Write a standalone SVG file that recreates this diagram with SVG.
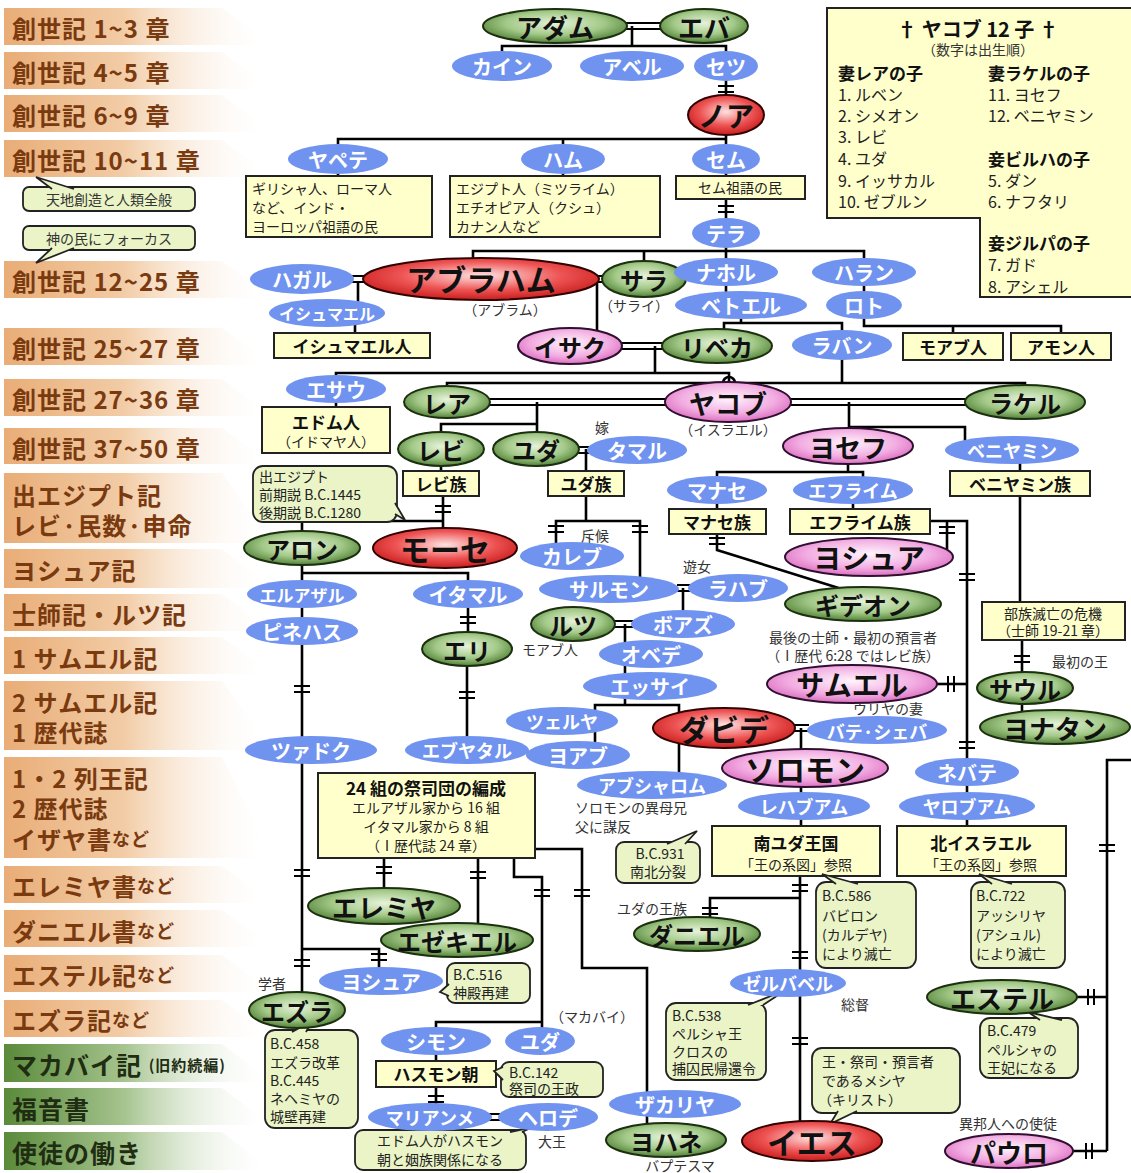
<svg xmlns="http://www.w3.org/2000/svg" width="1131" height="1173" viewBox="0 0 1131 1173">
<defs>
<linearGradient id="gO" x1="0" x2="1" y1="0" y2="0"><stop offset="0" stop-color="#e9ad77"/><stop offset="0.45" stop-color="#f2cca6"/><stop offset="1" stop-color="#ffffff" stop-opacity="0"/></linearGradient>
<linearGradient id="gG" x1="0" x2="1" y1="0" y2="0"><stop offset="0" stop-color="#5a8a3a"/><stop offset="0.45" stop-color="#a6c48f"/><stop offset="1" stop-color="#ffffff" stop-opacity="0"/></linearGradient>
<radialGradient id="rG" cx="0.5" cy="0.42" r="0.62"><stop offset="0" stop-color="#e6f3da"/><stop offset="0.55" stop-color="#a3c988"/><stop offset="1" stop-color="#44762a"/></radialGradient>
<radialGradient id="rR" cx="0.5" cy="0.42" r="0.62"><stop offset="0" stop-color="#ffe2e2"/><stop offset="0.55" stop-color="#ee5454"/><stop offset="1" stop-color="#c21414"/></radialGradient>
<radialGradient id="rP" cx="0.5" cy="0.42" r="0.62"><stop offset="0" stop-color="#fff4fc"/><stop offset="0.6" stop-color="#f2ade2"/><stop offset="1" stop-color="#d862ba"/></radialGradient>
<g id="m"><path d="M-8,-3H8M-8,3H8" stroke="#000" stroke-width="2" fill="none"/></g>
<g id="mv"><path d="M-3,-8V8M3,-8V8" stroke="#000" stroke-width="2" fill="none"/></g>
<style>
text{font-family:"Noto Sans CJK JP","Noto Sans CJK SC",sans-serif}
.ln path{stroke:#000;stroke-width:2.6;fill:none}
.dl path{stroke:#000;stroke-width:1.8;fill:none}
.b{fill:#7093f0}
.g{fill:url(#rG);stroke:#1c3010;stroke-width:2}
.r{fill:url(#rR);stroke:#300;stroke-width:2}
.p{fill:url(#rP);stroke:#301030;stroke-width:2}
.bx{fill:#ffffcc;stroke:#222;stroke-width:2}
.bb{fill:#eaf4c6;stroke:#222;stroke-width:1.8}
.tw,.tk{font-weight:700;text-anchor:middle;dominant-baseline:central}
.tw{fill:#fff}
.tk{fill:#111}
.f16{font-size:16px}.f17{font-size:17px}.f18{font-size:18px}.f20{font-size:20px}.f22{font-size:22px}.f24{font-size:24px}.f26{font-size:26px}.f28{font-size:28px}.f30{font-size:30px}.f32{font-size:32px}
.s{fill:#333;font-size:14px;dominant-baseline:central}
.c{text-anchor:middle}
.bo{fill:url(#gO)}
.bg{fill:url(#gG)}
.bt{fill:#7a3a10;font-size:24px;font-weight:700;dominant-baseline:central;letter-spacing:1px}
.btg{fill:#1f2d12;font-size:25px;font-weight:700;dominant-baseline:central;letter-spacing:1px}
.bxt{fill:#111;font-size:17px;font-weight:700;text-anchor:middle;dominant-baseline:central}
.bn{fill:#222;font-size:14px;dominant-baseline:central}
</style>
</defs>
<rect width="1131" height="1173" fill="#fff"/>

<g id="bands">
<g id="band-1"><polygon class="bo" points="4,8 222,8 272,45 4,45"/><text class="bt" x="12" y="27">創世記 1~3 章</text></g>
<g id="band-2"><polygon class="bo" points="4,52 222,52 272,89 4,89"/><text class="bt" x="12" y="71">創世記 4~5 章</text></g>
<g id="band-3"><polygon class="bo" points="4,95 222,95 272,132 4,132"/><text class="bt" x="12" y="114">創世記 6~9 章</text></g>
<g id="band-4"><polygon class="bo" points="4,140 222,140 272,177 4,177"/><text class="bt" x="12" y="159">創世記 10~11 章</text></g>
<g id="band-5"><polygon class="bo" points="4,261 222,261 272,298 4,298"/><text class="bt" x="12" y="280">創世記 12~25 章</text></g>
<g id="band-6"><polygon class="bo" points="4,328 222,328 272,365 4,365"/><text class="bt" x="12" y="347">創世記 25~27 章</text></g>
<g id="band-7"><polygon class="bo" points="4,379 222,379 272,416 4,416"/><text class="bt" x="12" y="398">創世記 27~36 章</text></g>
<g id="band-8"><polygon class="bo" points="4,428 222,428 272,464 4,464"/><text class="bt" x="12" y="447">創世記 37~50 章</text></g>
<g id="band-9"><polygon class="bo" points="4,473 222,473 272,543 4,543"/><text class="bt" x="12" y="494">出エジプト記</text><text class="bt" x="12" y="524">レビ·民数·申命</text></g>
<g id="band-10"><polygon class="bo" points="4,549 222,549 272,588 4,588"/><text class="bt" x="12" y="569">ヨシュア記</text></g>
<g id="band-11"><polygon class="bo" points="4,594 222,594 272,631 4,631"/><text class="bt" x="12" y="613">士師記・ルツ記</text></g>
<g id="band-12"><polygon class="bo" points="4,637 222,637 272,674 4,674"/><text class="bt" x="12" y="657">1 サムエル記</text></g>
<g id="band-13"><polygon class="bo" points="4,681 222,681 272,750 4,750"/><text class="bt" x="12" y="701">2 サムエル記</text><text class="bt" x="12" y="731">1 歴代誌</text></g>
<g id="band-14"><polygon class="bo" points="4,757 222,757 272,858 4,858"/><text class="bt" x="12" y="777">1・2 列王記</text><text class="bt" x="12" y="807">2 歴代誌</text><text class="bt" x="12" y="838">イザヤ書<tspan font-size="18">など</tspan></text></g>
<g id="band-15"><polygon class="bo" points="4,866 222,866 272,903 4,903"/><text class="bt" x="12" y="885">エレミヤ書<tspan font-size="18">など</tspan></text></g>
<g id="band-16"><polygon class="bo" points="4,910 222,910 272,947 4,947"/><text class="bt" x="12" y="930">ダニエル書<tspan font-size="18">など</tspan></text></g>
<g id="band-17"><polygon class="bo" points="4,955 222,955 272,992 4,992"/><text class="bt" x="12" y="974">エステル記<tspan font-size="18">など</tspan></text></g>
<g id="band-18"><polygon class="bo" points="4,1000 222,1000 272,1037 4,1037"/><text class="bt" x="12" y="1019">エズラ記<tspan font-size="18">など</tspan></text></g>
<g id="band-19"><polygon class="bg" points="4,1044 222,1044 272,1082 4,1082"/><text class="btg" x="12" y="1064">マカバイ記 <tspan font-size="15">(旧約続編)</tspan></text></g>
<g id="band-20"><polygon class="bg" points="4,1088 222,1088 272,1125 4,1125"/><text class="btg" x="12" y="1108">福音書</text></g>
<g id="band-21"><polygon class="bg" points="4,1132 222,1132 272,1170 4,1170"/><text class="btg" x="12" y="1152">使徒の働き</text></g>
</g>

<g id="legend-bubbles">
<g id="bub-tenchi"><rect class="bb" x="23" y="187" width="172" height="24" rx="6"/><polyline class="bb" points="52,189 36,177 74,189"/><text class="s c" x="109" y="199" fill="#222">天地創造と人類全般</text></g>
<g id="bub-kami"><rect class="bb" x="23" y="226" width="172" height="24" rx="6"/><polyline class="bb" points="52,248 36,263 74,248"/><text class="s c" x="109" y="238">神の民にフォーカス</text></g>
</g>

<g id="panel-12sons">
<polygon class="bx" points="827,8 1136,8 1136,297 980,297 980,218 827,218"/>
<text x="978" y="28" fill="#111" font-size="20" font-weight="700" text-anchor="middle" dominant-baseline="central">† ヤコブ 12 子 †</text>
<text x="978" y="49" class="s c" font-size="15" fill="#222">（数字は出生順）</text>
<g font-size="17" font-weight="700" fill="#111" dominant-baseline="central">
<text x="838" y="72">妻レアの子</text><text x="988" y="72">妻ラケルの子</text>
<text x="988" y="158">妾ビルハの子</text><text x="988" y="242">妾ジルパの子</text>
</g>
<g font-size="16" fill="#222" dominant-baseline="central">
<text x="838" y="94">1. ルベン</text><text x="838" y="115">2. シメオン</text><text x="838" y="136">3. レビ</text><text x="838" y="158">4. ユダ</text><text x="838" y="180">9. イッサカル</text><text x="838" y="201">10. ゼブルン</text>
<text x="988" y="94">11. ヨセフ</text><text x="988" y="115">12. ベニヤミン</text><text x="988" y="180">5. ダン</text><text x="988" y="201">6. ナフタリ</text><text x="988" y="264">7. ガド</text><text x="988" y="286">8. アシェル</text>
</g>
</g>

<g id="connectors">
<g class="ln">
<path d="M632,26V46M502,66V46H726V66"/>
<path d="M726,66V115"/>
<path d="M726,115V159M338,159V139H726M563,139V159"/>
<path d="M338,159V176M563,159V176M726,159V176"/>
<path d="M726,199V233"/>
<path d="M726,233V272M473,270V251H864V272M644,251V270"/>
<path d="M358,282V313M355,313V333"/>
<path d="M597,282V346"/>
<path d="M726,272V305M741,305V323M724,346V323H842V345"/>
<path d="M864,272V305M864,305V326H1061V333M953,326V333"/>
<path d="M655,346V373M336,389V373H729V402"/>
<path d="M842,345V383M447,402V383H723A6,6 0 0 1 735,383H1025V402"/>
<path d="M336,389V407"/>
<path d="M537,402V424M441,449V424H537V449"/>
<path d="M849,402V446M849,427H965V450"/>
<path d="M848,446V472M717,490V472H863V490"/>
<path d="M717,490V509M853,490V509M1020,450V471"/>
<path d="M441,449V471M586,449V471"/>
<path d="M443,496V548M302,548V521H443"/>
<path d="M586,496V521M556,556V521H640V589"/>
<path d="M683,588V624"/>
<path d="M625,624V705M595,755V705H679V785"/>
<path d="M801,728V826"/>
<path d="M800,876V1141M800,898H710V934"/>
<path d="M302,548V594M302,573H468V594"/>
<path d="M302,594V1010M302,949H379V981"/>
<path d="M468,594V649M467,649V750"/>
<path d="M384,858V906M478,858V940M514,858V877H542V1022H436V1041M542,1022V1041M535,849H582V968H647V1140"/>
<path d="M436,1041V1061M436,1087V1117"/>
<path d="M930,521H967V826M947,521V552"/>
<path d="M937,684H967"/>
<path d="M717,534V550L845,590"/>
<path d="M1020,496V602M1022,640V727"/>
<path d="M1136,760H1107V1151M1077,997H1107M1073,1151H1107"/>
</g>
<g class="dl">
<path d="M626,23H662M626,29H662"/>
<path d="M352,276H366M352,282H366"/>
<path d="M597,276H606M597,282H606"/>
<path d="M620,343H665M620,349H665"/>
<path d="M488,399H667M488,405H667"/>
<path d="M789,399H967M789,405H967"/>
<path d="M577,447H590M577,453H590"/>
<path d="M677,585H690M677,591H690"/>
<path d="M613,621H633M613,627H633"/>
<path d="M793,725H809M793,731H809"/>
<path d="M489,1114H501M489,1120H501"/>
</g>
<g id="gap-markers">
<use href="#m" x="726" y="89"/><use href="#m" x="726" y="209"/><use href="#m" x="443" y="509"/>
<use href="#m" x="556" y="529"/><use href="#m" x="640" y="529"/><use href="#m" x="468" y="620"/>
<use href="#m" x="302" y="689"/><use href="#m" x="467" y="695"/><use href="#m" x="302" y="873"/>
<use href="#m" x="384" y="870"/><use href="#m" x="478" y="875"/><use href="#m" x="542" y="893"/>
<use href="#m" x="582" y="893"/><use href="#m" x="379" y="957"/><use href="#m" x="302" y="963"/>
<use href="#m" x="436" y="1099"/><use href="#m" x="800" y="888"/><use href="#m" x="710" y="911"/>
<use href="#m" x="800" y="955"/><use href="#m" x="800" y="1041"/><use href="#m" x="967" y="577"/>
<use href="#m" x="967" y="745"/><use href="#m" x="947" y="530"/><use href="#m" x="717" y="541"/>
<use href="#m" x="1022" y="659"/><use href="#m" x="1107" y="848"/>
<use href="#mv" x="951" y="684"/><use href="#mv" x="1091" y="997"/><use href="#mv" x="1089" y="1151"/>
</g>
</g>

<g id="boxes">
<g id="box-japheth"><rect class="bx" x="246" y="176" width="186" height="61"/><text class="bn" x="252" y="188" font-size="15">ギリシャ人、ローマ人</text><text class="bn" x="252" y="207" font-size="15">など、インド・</text><text class="bn" x="252" y="226" font-size="15">ヨーロッパ祖語の民</text></g>
<g id="box-ham"><rect class="bx" x="450" y="176" width="210" height="61"/><text class="bn" x="456" y="188" font-size="15">エジプト人（ミツライム）</text><text class="bn" x="456" y="207" font-size="15">エチオピア人（クシュ）</text><text class="bn" x="456" y="226" font-size="15">カナン人など</text></g>
<g id="box-shem"><rect class="bx" x="676" y="176" width="129" height="23"/><text class="bn" x="740" y="187" text-anchor="middle" font-size="15">セム祖語の民</text></g>
<g id="box-ishmaelites"><rect class="bx" x="274" y="333" width="156" height="25"/><text class="bxt" x="352" y="345">イシュマエル人</text></g>
<g id="box-moab"><rect class="bx" x="903" y="333" width="100" height="27"/><text class="bxt" x="953" y="346" font-size="18">モアブ人</text></g>
<g id="box-ammon"><rect class="bx" x="1011" y="333" width="100" height="27"/><text class="bxt" x="1061" y="346" font-size="18">アモン人</text></g>
<g id="box-edom"><rect class="bx" x="262" y="407" width="128" height="46"/><text class="bxt" x="326" y="421" font-size="18">エドム人</text><text class="bn c" x="326" y="441">（イドマヤ人）</text></g>
<g id="box-levi"><rect class="bx" x="403" y="471" width="76" height="25"/><text class="bxt" x="441" y="483">レビ族</text></g>
<g id="box-judah"><rect class="bx" x="548" y="471" width="76" height="25"/><text class="bxt" x="586" y="483">ユダ族</text></g>
<g id="box-benjamin"><rect class="bx" x="950" y="471" width="140" height="25"/><text class="bxt" x="1020" y="483">ベニヤミン族</text></g>
<g id="box-manasseh"><rect class="bx" x="669" y="509" width="97" height="25"/><text class="bxt" x="717" y="521">マナセ族</text></g>
<g id="box-ephraim"><rect class="bx" x="790" y="509" width="140" height="25"/><text class="bxt" x="860" y="521">エフライム族</text></g>
<g id="box-crisis"><rect class="bx" x="982" y="602" width="143" height="38"/><text class="bn c" x="1053" y="613">部族滅亡の危機</text><text class="bn c" x="1053" y="630">（士師 19-21 章）</text></g>
<g id="box-24"><rect class="bx" x="318" y="773" width="217" height="85"/><text class="bxt" x="426" y="787" font-size="16">24 組の祭司団の編成</text><text class="bn c" x="426" y="807" font-size="15">エルアザル家から 16 組</text><text class="bn c" x="426" y="826" font-size="15">イタマル家から 8 組</text><text class="bn c" x="426" y="845" font-size="15">（Ⅰ歴代誌 24 章）</text></g>
<g id="box-southjudah"><rect class="bx" x="712" y="826" width="168" height="50"/><text class="bxt" x="796" y="842" font-size="22">南ユダ王国</text><text class="bn c" x="796" y="864">「王の系図」参照</text></g>
<g id="box-northisrael"><rect class="bx" x="897" y="826" width="169" height="50"/><text class="bxt" x="981" y="842" font-size="22">北イスラエル</text><text class="bn c" x="981" y="864">「王の系図」参照</text></g>
<g id="box-hasmonean"><rect class="bx" x="376" y="1061" width="120" height="26"/><text class="bxt" x="436" y="1073">ハスモン朝</text></g>
</g>

<g id="bubbles">
<g id="bub-exodus"><rect class="bb" x="253" y="466" width="144" height="56" rx="10"/><polyline class="bb" points="395,503 405,520 395,514"/><text class="bn" x="259" y="476">出エジプト</text><text class="bn" x="259" y="494">前期説 B.C.1445</text><text class="bn" x="259" y="512">後期説 B.C.1280</text></g>
<g id="bub-931"><rect class="bb" x="616" y="842" width="84" height="41" rx="8"/><polyline class="bb" points="667,844 697,831 685,844"/><text class="bn c" x="660" y="853">B.C.931</text><text class="bn c" x="658" y="871">南北分裂</text></g>
<g id="bub-586"><rect class="bb" x="816" y="882" width="100" height="86" rx="10"/><polyline class="bb" points="836,884 822,874 858,884"/><text class="bn" x="822" y="895">B.C.586</text><text class="bn" x="822" y="915">バビロン</text><text class="bn" x="822" y="934">(カルデヤ)</text><text class="bn" x="822" y="953">により滅亡</text></g>
<g id="bub-722"><rect class="bb" x="971" y="882" width="94" height="86" rx="10"/><polyline class="bb" points="992,884 979,874 1012,884"/><text class="bn" x="976" y="895">B.C.722</text><text class="bn" x="976" y="915">アッシリヤ</text><text class="bn" x="976" y="934">(アシュル)</text><text class="bn" x="976" y="953">により滅亡</text></g>
<g id="bub-516"><rect class="bb" x="447" y="963" width="83" height="40" rx="8"/><polyline class="bb" points="449,984 440,992 449,996"/><text class="bn" x="453" y="974">B.C.516</text><text class="bn" x="453" y="992">神殿再建</text></g>
<g id="bub-ezra"><rect class="bb" x="265" y="1030" width="93" height="98" rx="10"/><polyline class="bb" points="292,1032 312,1021 306,1032"/><text class="bn" x="270" y="1043">B.C.458</text><text class="bn" x="270" y="1062">エズラ改革</text><text class="bn" x="270" y="1080">B.C.445</text><text class="bn" x="270" y="1098">ネヘミヤの</text><text class="bn" x="270" y="1116">城壁再建</text></g>
<g id="bub-142"><rect class="bb" x="501" y="1062" width="102" height="35" rx="8"/><polyline class="bb" points="503,1067 494,1071 503,1080"/><text class="bn" x="509" y="1072">B.C.142</text><text class="bn" x="509" y="1088">祭司の王政</text></g>
<g id="bub-edomites"><rect class="bb" x="355" y="1130" width="171" height="40" rx="8"/><polyline class="bb" points="510,1132 533,1127 522,1132"/><text class="bn c" x="440" y="1140">エドム人がハスモン</text><text class="bn c" x="440" y="1159">朝と姻族関係になる</text></g>
<g id="bub-538"><rect class="bb" x="666" y="1003" width="100" height="77" rx="10"/><polyline class="bb" points="748,1005 786,990 763,1005"/><text class="bn" x="672" y="1015">B.C.538</text><text class="bn" x="672" y="1033">ペルシャ王</text><text class="bn" x="672" y="1051">クロスの</text><text class="bn" x="672" y="1068">捕囚民帰還令</text></g>
<g id="bub-messiah"><rect class="bb" x="812" y="1048" width="148" height="65" rx="10"/><polyline class="bb" points="838,1111 830,1124 857,1111"/><text class="bn" x="822" y="1061" font-size="15">王・祭司・預言者</text><text class="bn" x="822" y="1080" font-size="15">であるメシヤ</text><text class="bn" x="818" y="1099" font-size="15">（キリスト）</text></g>
<g id="bub-479"><rect class="bb" x="980" y="1018" width="98" height="60" rx="10"/><polyline class="bb" points="1040,1020 1028,1012 1062,1020"/><text class="bn" x="987" y="1030">B.C.479</text><text class="bn" x="987" y="1049">ペルシャの</text><text class="bn" x="987" y="1067">王妃になる</text></g>
</g>

<g id="nodes">
<g id="n-adam"><ellipse class="g" cx="555" cy="26" rx="72" ry="17"/><text class="tk f26" x="555" y="26">アダム</text></g>
<g id="n-eve"><ellipse class="g" cx="704" cy="26" rx="44" ry="17"/><text class="tk f26" x="704" y="26">エバ</text></g>
<g id="n-cain"><ellipse class="b" cx="502" cy="66" rx="50" ry="15"/><text class="tw f20" x="502" y="66">カイン</text></g>
<g id="n-abel"><ellipse class="b" cx="632" cy="66" rx="52" ry="15"/><text class="tw f20" x="632" y="66">アベル</text></g>
<g id="n-seth"><ellipse class="b" cx="726" cy="66" rx="32" ry="15"/><text class="tw f20" x="726" y="66">セツ</text></g>
<g id="n-noah"><ellipse class="r" cx="726" cy="115" rx="38" ry="20"/><text class="tk f28" x="726" y="115">ノア</text></g>
<g id="n-japheth"><ellipse class="b" cx="338" cy="159" rx="50" ry="15"/><text class="tw f20" x="338" y="159">ヤペテ</text></g>
<g id="n-ham"><ellipse class="b" cx="563" cy="159" rx="42" ry="15"/><text class="tw f20" x="563" y="159">ハム</text></g>
<g id="n-shem"><ellipse class="b" cx="726" cy="159" rx="34" ry="15"/><text class="tw f20" x="726" y="159">セム</text></g>
<g id="n-terah"><ellipse class="b" cx="726" cy="233" rx="34" ry="15"/><text class="tw f20" x="726" y="233">テラ</text></g>
<g id="n-hagar"><ellipse class="b" cx="302" cy="279" rx="52" ry="15"/><text class="tw f20" x="302" y="279">ハガル</text></g>
<g id="n-abraham"><ellipse class="r" cx="481" cy="279" rx="118" ry="21"/><text class="tk f30" x="481" y="278">アブラハム</text><text class="s c" x="505" y="309">（アブラム）</text></g>
<g id="n-sarah"><ellipse class="g" cx="644" cy="279" rx="42" ry="18"/><text class="tk f24" x="644" y="279">サラ</text><text class="s c" x="634" y="305">（サライ）</text></g>
<g id="n-nahor"><ellipse class="b" cx="726" cy="272" rx="52" ry="14"/><text class="tw f20" x="726" y="272">ナホル</text></g>
<g id="n-haran"><ellipse class="b" cx="864" cy="272" rx="52" ry="14"/><text class="tw f20" x="864" y="272">ハラン</text></g>
<g id="n-ishmael"><ellipse class="b" cx="327" cy="313" rx="58" ry="14"/><text class="tw f16" x="327" y="313">イシュマエル</text></g>
<g id="n-bethuel"><ellipse class="b" cx="741" cy="305" rx="66" ry="14"/><text class="tw f20" x="741" y="305">ベトエル</text></g>
<g id="n-lot"><ellipse class="b" cx="864" cy="305" rx="38" ry="14"/><text class="tw f20" x="864" y="305">ロト</text></g>
<g id="n-isaac"><ellipse class="p" cx="570" cy="346" rx="52" ry="18"/><text class="tk f24" x="570" y="346">イサク</text></g>
<g id="n-rebekah"><ellipse class="g" cx="717" cy="346" rx="55" ry="17"/><text class="tk f24" x="717" y="346">リベカ</text></g>
<g id="n-laban"><ellipse class="b" cx="842" cy="345" rx="50" ry="15"/><text class="tw f20" x="842" y="345">ラバン</text></g>
<g id="n-esau"><ellipse class="b" cx="336" cy="389" rx="50" ry="14"/><text class="tw f20" x="336" y="389">エサウ</text></g>
<g id="n-leah"><ellipse class="g" cx="447" cy="402" rx="43" ry="16"/><text class="tk f24" x="447" y="402">レア</text></g>
<g id="n-jacob"><ellipse class="p" cx="728" cy="402" rx="63" ry="20"/><text class="tk f26" x="728" y="402">ヤコブ</text><text class="s c" x="728" y="429">（イスラエル）</text></g>
<g id="n-rachel"><ellipse class="g" cx="1025" cy="402" rx="60" ry="17"/><text class="tk f24" x="1025" y="402">ラケル</text></g>
<g id="n-levi"><ellipse class="g" cx="441" cy="449" rx="43" ry="17"/><text class="tk f24" x="441" y="449">レビ</text></g>
<g id="n-judah"><ellipse class="g" cx="536" cy="449" rx="43" ry="17"/><text class="tk f24" x="536" y="449">ユダ</text></g>
<g id="n-tamar"><ellipse class="b" cx="637" cy="450" rx="50" ry="14"/><text class="tw f20" x="637" y="450">タマル</text><text class="s c" x="602" y="427">嫁</text></g>
<g id="n-joseph"><ellipse class="p" cx="848" cy="446" rx="65" ry="18"/><text class="tk f26" x="848" y="446">ヨセフ</text></g>
<g id="n-benjamin"><ellipse class="b" cx="1012" cy="450" rx="67" ry="14"/><text class="tw f18" x="1012" y="450">ベニヤミン</text></g>
<g id="n-manasseh"><ellipse class="b" cx="717" cy="490" rx="50" ry="14"/><text class="tw f20" x="717" y="490">マナセ</text></g>
<g id="n-ephraim"><ellipse class="b" cx="853" cy="490" rx="60" ry="14"/><text class="tw f18" x="853" y="490">エフライム</text></g>
<g id="n-aaron"><ellipse class="g" cx="302" cy="548" rx="58" ry="17"/><text class="tk f24" x="302" y="548">アロン</text></g>
<g id="n-moses"><ellipse class="r" cx="445" cy="548" rx="72" ry="20"/><text class="tk f30" x="445" y="548">モーセ</text></g>
<g id="n-joshua"><ellipse class="p" cx="869" cy="557" rx="84" ry="19"/><text class="tk f28" x="869" y="557">ヨシュア</text></g>
<g id="n-caleb"><ellipse class="b" cx="572" cy="556" rx="52" ry="14"/><text class="tw f20" x="572" y="556">カレブ</text><text class="s c" x="595" y="535">斥候</text></g>
<g id="n-salmon"><ellipse class="b" cx="609" cy="589" rx="70" ry="14"/><text class="tw f20" x="609" y="589">サルモン</text></g>
<g id="n-rahab"><ellipse class="b" cx="738" cy="588" rx="50" ry="14"/><text class="tw f20" x="738" y="588">ラハブ</text><text class="s c" x="697" y="566">遊女</text></g>
<g id="n-eleazar"><ellipse class="b" cx="302" cy="594" rx="55" ry="14"/><text class="tw f17" x="302" y="594">エルアザル</text></g>
<g id="n-ithamar"><ellipse class="b" cx="468" cy="594" rx="55" ry="14"/><text class="tw f20" x="468" y="594">イタマル</text></g>
<g id="n-gideon"><ellipse class="g" cx="863" cy="604" rx="78" ry="17"/><text class="tk f24" x="863" y="604">ギデオン</text></g>
<g id="n-phinehas"><ellipse class="b" cx="302" cy="631" rx="56" ry="14"/><text class="tw f20" x="302" y="631">ピネハス</text></g>
<g id="n-ruth"><ellipse class="g" cx="573" cy="624" rx="42" ry="17"/><text class="tk f24" x="573" y="624">ルツ</text><text class="s c" x="550" y="649">モアブ人</text></g>
<g id="n-boaz"><ellipse class="b" cx="683" cy="624" rx="52" ry="14"/><text class="tw f20" x="683" y="624">ボアズ</text></g>
<g id="n-eli"><ellipse class="g" cx="467" cy="649" rx="45" ry="17"/><text class="tk f24" x="467" y="649">エリ</text></g>
<g id="n-obed"><ellipse class="b" cx="651" cy="654" rx="52" ry="14"/><text class="tw f20" x="651" y="654">オベデ</text></g>
<g id="n-jesse"><ellipse class="b" cx="650" cy="686" rx="67" ry="14"/><text class="tw f20" x="650" y="686">エッサイ</text></g>
<g id="n-samuel"><ellipse class="p" cx="852" cy="684" rx="85" ry="19"/><text class="tk f28" x="852" y="684">サムエル</text><text class="s c" x="853" y="637" font-size="15">最後の士師・最初の預言者</text><text class="s c" x="853" y="655" font-size="13">（Ⅰ歴代 6:28 ではレビ族）</text></g>
<g id="n-saul"><ellipse class="g" cx="1025" cy="688" rx="48" ry="16"/><text class="tk f24" x="1025" y="688">サウル</text><text class="s c" x="1080" y="661">最初の王</text></g>
<g id="n-zeruiah"><ellipse class="b" cx="562" cy="721" rx="56" ry="14"/><text class="tw f18" x="562" y="721">ツェルヤ</text></g>
<g id="n-david"><ellipse class="r" cx="724" cy="728" rx="71" ry="20"/><text class="tk f30" x="724" y="728">ダビデ</text></g>
<g id="n-bathsheba"><ellipse class="b" cx="877" cy="730" rx="70" ry="14"/><text class="tw f18" x="877" y="731">バテ·シェバ</text><text class="s c" x="888" y="708">ウリヤの妻</text></g>
<g id="n-jonathan"><ellipse class="g" cx="1055" cy="727" rx="75" ry="17"/><text class="tk f26" x="1055" y="727">ヨナタン</text></g>
<g id="n-zadok"><ellipse class="b" cx="311" cy="750" rx="66" ry="14"/><text class="tw f20" x="311" y="750">ツァドク</text></g>
<g id="n-abiathar"><ellipse class="b" cx="467" cy="750" rx="62" ry="14"/><text class="tw f18" x="467" y="750">エブヤタル</text></g>
<g id="n-joab"><ellipse class="b" cx="578" cy="755" rx="52" ry="14"/><text class="tw f20" x="578" y="755">ヨアブ</text></g>
<g id="n-absalom"><ellipse class="b" cx="652" cy="785" rx="75" ry="14"/><text class="tw f18" x="652" y="785">アブシャロム</text><text class="s" x="575" y="807" font-size="15">ソロモンの異母兄</text><text class="s" x="575" y="826" font-size="15">父に謀反</text></g>
<g id="n-solomon"><ellipse class="p" cx="805" cy="768" rx="83" ry="19"/><text class="tk f30" x="805" y="768">ソロモン</text></g>
<g id="n-nebat"><ellipse class="b" cx="967" cy="772" rx="52" ry="14"/><text class="tw f20" x="967" y="772">ネバテ</text></g>
<g id="n-rehoboam"><ellipse class="b" cx="804" cy="806" rx="66" ry="14"/><text class="tw f18" x="804" y="806">レハブアム</text></g>
<g id="n-jeroboam"><ellipse class="b" cx="967" cy="806" rx="68" ry="14"/><text class="tw f18" x="967" y="806">ヤロブアム</text></g>
<g id="n-jeremiah"><ellipse class="g" cx="384" cy="906" rx="76" ry="18"/><text class="tk f26" x="384" y="906">エレミヤ</text></g>
<g id="n-daniel"><ellipse class="g" cx="697" cy="934" rx="63" ry="17"/><text class="tk f24" x="697" y="934">ダニエル</text><text class="s c" x="652" y="908">ユダの王族</text></g>
<g id="n-ezekiel"><ellipse class="g" cx="457" cy="940" rx="76" ry="17"/><text class="tk f24" x="457" y="940">エゼキエル</text></g>
<g id="n-zerubbabel"><ellipse class="b" cx="788" cy="983" rx="58" ry="14"/><text class="tw f18" x="788" y="983">ゼルバベル</text><text class="s c" x="855" y="1004">総督</text></g>
<g id="n-joshua2"><ellipse class="b" cx="381" cy="981" rx="62" ry="14"/><text class="tw f20" x="381" y="981">ヨシュア</text></g>
<g id="n-esther"><ellipse class="g" cx="1002" cy="997" rx="75" ry="17"/><text class="tk f26" x="1002" y="997">エステル</text></g>
<g id="n-ezra"><ellipse class="g" cx="297" cy="1010" rx="48" ry="18"/><text class="tk f24" x="297" y="1010">エズラ</text><text class="s c" x="272" y="983">学者</text></g>
<g id="n-simon"><ellipse class="b" cx="436" cy="1041" rx="55" ry="14"/><text class="tw f20" x="436" y="1041">シモン</text></g>
<g id="n-judas"><ellipse class="b" cx="540" cy="1041" rx="35" ry="14"/><text class="tw f20" x="540" y="1041">ユダ</text><text class="s c" x="592" y="1016">（マカバイ）</text></g>
<g id="n-mariamne"><ellipse class="b" cx="430" cy="1117" rx="62" ry="14"/><text class="tw f18" x="430" y="1117">マリアンメ</text></g>
<g id="n-herod"><ellipse class="b" cx="548" cy="1117" rx="50" ry="14"/><text class="tw f20" x="548" y="1117">ヘロデ</text><text class="s c" x="552" y="1141">大王</text></g>
<g id="n-zechariah"><ellipse class="b" cx="675" cy="1104" rx="66" ry="14"/><text class="tw f20" x="675" y="1104">ザカリヤ</text></g>
<g id="n-john"><ellipse class="g" cx="666" cy="1140" rx="60" ry="17"/><text class="tk f24" x="666" y="1140">ヨハネ</text><text class="s c" x="680" y="1165">バプテスマ</text></g>
<g id="n-jesus"><ellipse class="r" cx="812" cy="1141" rx="70" ry="20"/><text class="tk f30" x="812" y="1141">イエス</text></g>
<g id="n-paul"><ellipse class="p" cx="1009" cy="1151" rx="64" ry="17"/><text class="tk f26" x="1009" y="1151">パウロ</text><text class="s c" x="1008" y="1123">異邦人への使徒</text></g>
</g>
</svg>
